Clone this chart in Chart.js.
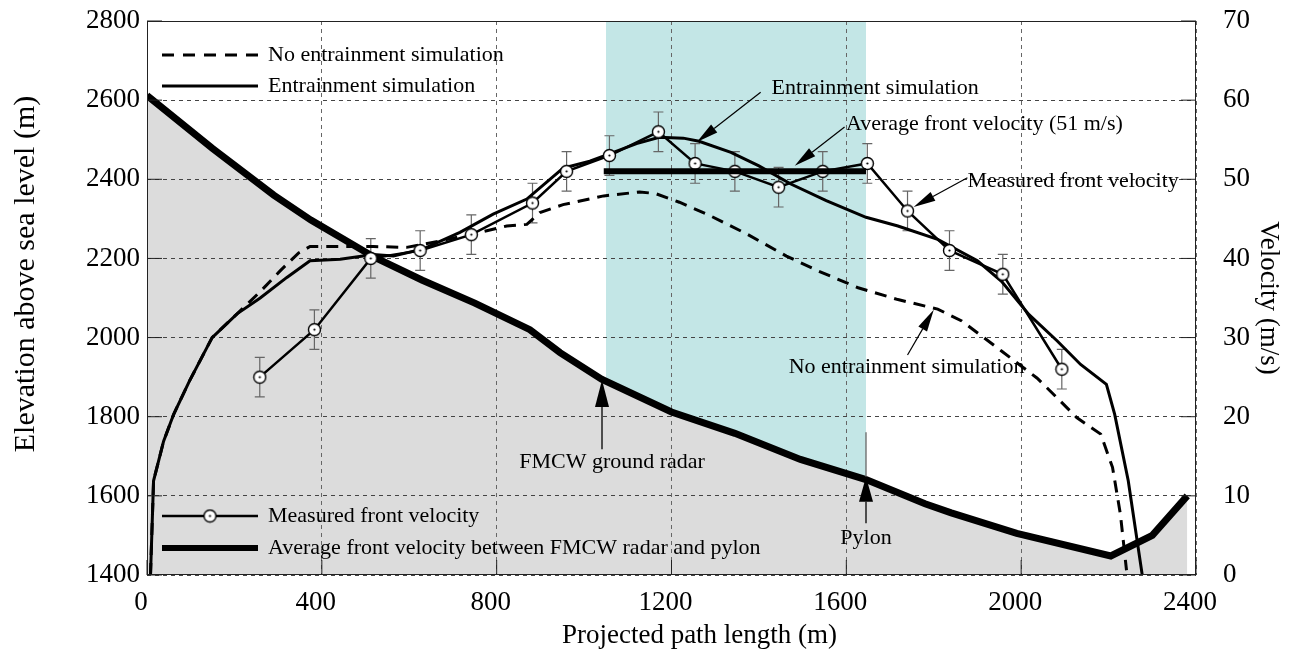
<!DOCTYPE html>
<html>
<head>
<meta charset="utf-8">
<script src="https://cdn.jsdelivr.net/npm/chart.js@4"></script>
<style>
  html, body { margin: 0; padding: 0; background: #fff; }
  #wrap { width: 1291px; height: 649px; }
</style>
</head>
<body>
<div id="wrap"><canvas id="avalancheChart"></canvas></div>
<script>
// -------------------------------
// DONNEES
// -------------------------------

// profil du terrain (altitude, axe de gauche)
const TERRAIN_X = [0, 150, 290, 375, 520, 630, 750, 876, 945, 1040, 1200, 1345, 1495, 1645, 1780, 1840, 1990, 2205, 2300, 2380];
const TERRAIN_ELEV = [2612, 2478, 2360, 2297, 2203, 2145, 2087, 2020, 1962, 1895, 1812, 1758, 1692, 1641, 1580, 1557, 1505, 1448, 1500, 1600];

// simulation sans entrainement (vitesse, axe de droite)
const NOENT_X = [8, 15, 38, 61, 97, 149, 206, 259, 304, 347, 373, 442, 518, 594, 670, 747, 823, 869, 899, 952, 1045, 1127, 1163, 1218, 1281, 1372, 1463, 1536, 1627, 1718, 1809, 1864, 1955, 2036, 2082, 2127, 2182, 2209, 2227, 2241];
const NOENT_V = [0, 11.9, 16.9, 20.3, 24.5, 30, 33, 35.8, 38.4, 40.7, 41.5, 41.5, 41.5, 41.4, 42.2, 43.1, 44.1, 44.3, 45.8, 46.8, 47.9, 48.4, 48.2, 47.1, 45.6, 43.1, 40.3, 38.4, 36.3, 34.8, 33.6, 32.1, 28.3, 24.9, 22.4, 19.9, 17.8, 13.6, 7.7, 0.6];

// simulation avec entrainement
const ENT_X = [8, 15, 38, 61, 97, 149, 206, 259, 320, 373, 442, 518, 564, 632, 716, 792, 869, 952, 1013, 1058, 1120, 1172, 1227, 1263, 1336, 1400, 1473, 1554, 1645, 1718, 1809, 1900, 1955, 2018, 2082, 2136, 2195, 2214, 2245, 2277];
const ENT_V = [0, 11.9, 16.9, 20.3, 24.5, 30, 33, 35, 37.6, 39.7, 39.9, 40.5, 40.3, 41.2, 43.3, 45.6, 47.5, 51.4, 52.3, 53.2, 54.5, 55.3, 55.2, 54.8, 53.4, 51.7, 49.4, 47.3, 45.2, 44.1, 42.4, 39.7, 37.1, 32.9, 29.6, 26.6, 24.1, 20.3, 11.9, 0];

// vitesse du front mesuree (+/- erreur)
const MEAS_X = [258, 383, 512, 625, 742, 882, 960, 1058, 1170, 1254, 1345, 1445, 1546, 1648, 1740, 1836, 1958, 2093];
const MEAS_V = [25, 31, 40, 41, 43, 47, 51, 53, 56, 52, 51, 49, 51, 52, 46, 41, 38, 26];
const MEAS_ERR = [2.5, 2.5, 2.5, 2.5, 2.5, 2.5, 2.5, 2.5, 2.5, 2.5, 2.5, 2.5, 2.5, 2.5, 2.5, 2.5, 2.5, 2.5];

// vitesse moyenne entre radar et pylone
const AVG_X = [1045, 1645];
const AVG_V = [51, 51];

// zone radar -> pylone (bande cyan)
const SHADE_X = [1050, 1645];
const SHADE_BASE = [1400, 1400];

// graduations
const X_TICKS = [0, 400, 800, 1200, 1600, 2000, 2400];
const ELEV_TICKS = [1400, 1600, 1800, 2000, 2200, 2400, 2600, 2800];
const VEL_TICKS = [0, 10, 20, 30, 40, 50, 60, 70];

const SERIF = '"Liberation Serif", "Times New Roman", serif';
Chart.defaults.font.family = SERIF;
Chart.defaults.color = '#000';

const pts = (xs, ys) => xs.map((x, i) => ({ x: x, y: ys[i] }));

// marqueur rond blanc avec point central
function makeMarker() {
  const c = document.createElement('canvas');
  c.width = 15; c.height = 15;
  const g = c.getContext('2d');
  g.beginPath(); g.arc(7.5, 7.5, 6, 0, Math.PI * 2);
  g.fillStyle = '#fff'; g.fill();
  g.lineWidth = 1.4; g.strokeStyle = '#000'; g.stroke();
  g.beginPath(); g.arc(7.5, 7.5, 1.1, 0, Math.PI * 2);
  g.fillStyle = '#000'; g.fill();
  return c;
}
const marker = makeMarker();

function arrow(ctx, x1, y1, x2, y2, len, wid, color, lw) {
  const a = Math.atan2(y2 - y1, x2 - x1);
  const bx = x2 - len * Math.cos(a), by = y2 - len * Math.sin(a);
  ctx.save();
  ctx.strokeStyle = color; ctx.fillStyle = color; ctx.lineWidth = lw || 1.2;
  ctx.beginPath(); ctx.moveTo(x1, y1); ctx.lineTo(bx, by); ctx.stroke();
  ctx.beginPath();
  ctx.moveTo(x2, y2);
  ctx.lineTo(bx + wid / 2 * Math.sin(a), by - wid / 2 * Math.cos(a));
  ctx.lineTo(bx - wid / 2 * Math.sin(a), by + wid / 2 * Math.cos(a));
  ctx.closePath(); ctx.fill();
  ctx.restore();
}

// annotations (coordonnees en unites de donnees)
const VEL_NOTES = [
  { text: 'Entrainment simulation', x: 1429, v: 61.5 },
  { text: 'Average front velocity (51 m/s)', x: 1599, v: 56.9 },
  { text: 'Measured front velocity', x: 1877, v: 49.7 },
  { text: 'No entrainment simulation', x: 1468, v: 26.2 }
];
const VEL_ARROWS = [
  { from: [1404, 61.0], to: [1258, 54.7] },
  { from: [1596, 56.6], to: [1482, 51.7] },
  { from: [1877, 50.2], to: [1754, 46.5] },
  { from: [1740, 27.8], to: [1800, 33.5] }
];

// -------------------------------
// PLUGINS
// -------------------------------
const errorBars = {
  id: 'errorBars',
  beforeDatasetsDraw(chart) {
    const { ctx } = chart;
    const sx = chart.scales.x, sv = chart.scales.y2;
    ctx.save();
    ctx.strokeStyle = '#666';
    ctx.lineWidth = 1.2;
    MEAS_X.forEach((x, i) => {
      const px = sx.getPixelForValue(x);
      const top = sv.getPixelForValue(MEAS_V[i] + MEAS_ERR[i]);
      const bot = sv.getPixelForValue(MEAS_V[i] - MEAS_ERR[i]);
      ctx.beginPath();
      ctx.moveTo(px, top); ctx.lineTo(px, bot);
      ctx.moveTo(px - 5, top); ctx.lineTo(px + 5, top);
      ctx.moveTo(px - 5, bot); ctx.lineTo(px + 5, bot);
      ctx.stroke();
    });
    ctx.restore();
  }
};

const decorations = {
  id: 'decorations',
  afterDraw(chart) {
    const { ctx, chartArea: a } = chart;
    const sx = chart.scales.x, se = chart.scales.y, sv = chart.scales.y2;

    // cadre + graduations interieures
    ctx.save();
    ctx.strokeStyle = '#222';
    ctx.lineWidth = 1;
    ctx.strokeRect(a.left + 0.5, a.top + 0.5, a.right - a.left - 1, a.bottom - a.top - 1);
    ctx.beginPath();
    ELEV_TICKS.forEach(t => { const y = se.getPixelForValue(t); ctx.moveTo(a.left, y); ctx.lineTo(a.left + 15, y); });
    VEL_TICKS.forEach(t => { const y = sv.getPixelForValue(t); ctx.moveTo(a.right - 15, y); ctx.lineTo(a.right, y); });
    X_TICKS.forEach(t => { const x = sx.getPixelForValue(t); ctx.moveTo(x, a.bottom); ctx.lineTo(x, a.bottom - 15); });
    ctx.stroke();
    ctx.restore();

    // titres des axes x et y (decales comme sur la figure)
    ctx.save();
    ctx.fillStyle = '#000';
    ctx.textAlign = 'center';
    ctx.textBaseline = 'middle';
    ctx.font = '27px ' + SERIF;
    ctx.fillText('Projected path length (m)', (a.left + a.right) / 2 + 28, 636);
    ctx.translate(26, (a.top + a.bottom) / 2 - 24);
    ctx.rotate(-Math.PI / 2);
    ctx.font = '30px ' + SERIF;
    ctx.fillText('Elevation above sea level (m)', 0, 0);
    ctx.restore();

    // annotations
    ctx.save();
    ctx.font = '22px ' + SERIF;
    ctx.fillStyle = '#000';
    ctx.textBaseline = 'middle';
    ctx.textAlign = 'left';
    VEL_NOTES.forEach(n => ctx.fillText(n.text, sx.getPixelForValue(n.x), sv.getPixelForValue(n.v)));
    VEL_ARROWS.forEach(r => arrow(ctx,
      sx.getPixelForValue(r.from[0]), sv.getPixelForValue(r.from[1]),
      sx.getPixelForValue(r.to[0]), sv.getPixelForValue(r.to[1]), 22, 10, '#000', 1.2));

    // radar FMCW
    const rx = sx.getPixelForValue(1041);
    arrow(ctx, rx, se.getPixelForValue(1718), rx, se.getPixelForValue(1893), 27, 14, '#000', 1.3);
    ctx.textAlign = 'center';
    ctx.fillText('FMCW ground radar', sx.getPixelForValue(1064), se.getPixelForValue(1685));

    // pylone
    const px = sx.getPixelForValue(1645);
    ctx.strokeStyle = '#666'; ctx.lineWidth = 1.3;
    ctx.beginPath(); ctx.moveTo(px, se.getPixelForValue(1761)); ctx.lineTo(px, se.getPixelForValue(1648)); ctx.stroke();
    arrow(ctx, px, se.getPixelForValue(1531), px, se.getPixelForValue(1648), 25, 14, '#000', 1.3);
    ctx.fillText('Pylon', px, se.getPixelForValue(1493));
    ctx.restore();

    // legendes
    ctx.save();
    ctx.font = '22px ' + SERIF;
    ctx.fillStyle = '#000';
    ctx.textBaseline = 'middle';
    const x0 = a.left + 15, x1 = a.left + 111, tx = a.left + 121;
    const rows = [
      { y: a.top + 34, dash: [12, 9], w: 3, label: 'No entrainment simulation' },
      { y: a.top + 65, dash: [], w: 3, label: 'Entrainment simulation' },
      { y: a.bottom - 59, dash: [], w: 2.5, label: 'Measured front velocity', mark: true },
      { y: a.bottom - 27, dash: [], w: 6, label: 'Average front velocity between FMCW radar and pylon' }
    ];
    rows.forEach(r => {
      ctx.strokeStyle = '#000';
      ctx.lineWidth = r.w;
      ctx.setLineDash(r.dash);
      ctx.beginPath(); ctx.moveTo(x0, r.y); ctx.lineTo(x1, r.y); ctx.stroke();
      ctx.setLineDash([]);
      if (r.mark) ctx.drawImage(marker, (x0 + x1) / 2 - 7.5, r.y - 7.5);
      ctx.fillText(r.label, tx, r.y);
    });
    ctx.restore();
  }
};

// -------------------------------
// GRAPHIQUE
// -------------------------------
const ctx = document.getElementById('avalancheChart').getContext('2d');
const tickFont = { family: SERIF, size: 27 };
const titleFont = { family: SERIF, size: 27, lineHeight: 1 };
const plain = v => String(v);

new Chart(ctx, {
  type: 'line',
  data: {
    datasets: [
      {
        label: 'Average front velocity between FMCW radar and pylon',
        data: pts(AVG_X, AVG_V), yAxisID: 'y2',
        borderColor: '#000', borderWidth: 6, pointRadius: 0, fill: false, order: 1
      },
      {
        label: 'Measured front velocity',
        data: pts(MEAS_X, MEAS_V), yAxisID: 'y2',
        borderColor: '#000', borderWidth: 2.5, pointStyle: marker, pointRadius: 7,
        fill: false, order: 2
      },
      {
        label: 'Entrainment simulation',
        data: pts(ENT_X, ENT_V), yAxisID: 'y2',
        borderColor: '#000', borderWidth: 3, pointRadius: 0, fill: false, order: 3
      },
      {
        label: 'No entrainment simulation',
        data: pts(NOENT_X, NOENT_V), yAxisID: 'y2',
        borderColor: '#000', borderWidth: 3, borderDash: [12, 8], pointRadius: 0, fill: false, order: 4
      },
      {
        label: 'Terrain',
        data: pts(TERRAIN_X, TERRAIN_ELEV), yAxisID: 'y',
        borderColor: '#000', borderWidth: 7, pointRadius: 0,
        fill: 'start', backgroundColor: '#dcdcdc', clip: 0, order: 20
      },
      {
        label: 'Radar-pylon',
        data: pts(SHADE_X, SHADE_BASE), yAxisID: 'y',
        borderColor: 'rgba(0,0,0,0)', borderWidth: 1, pointRadius: 0,
        fill: 'end', backgroundColor: '#c3e6e6', order: 30
      }
    ]
  },
  options: {
    responsive: true,
    maintainAspectRatio: false,
    animation: false,
    layout: { padding: { top: 21, left: 0, right: 0, bottom: 0 } },
    plugins: {
      legend: { display: false },
      tooltip: { enabled: false },
      filler: { drawTime: 'beforeDraw' }
    },
    scales: {
      x: {
        type: 'linear', min: 0, max: 2400,
        ticks: { stepSize: 400, font: tickFont, color: '#000', padding: 12, labelOffset: -6, maxRotation: 0, autoSkip: false, callback: plain },
        grid: { color: '#666', drawTicks: false },
        border: { display: false, dash: [4, 4] },
        afterFit: s => { s.height = 74; }
      },
      y: {
        position: 'left', min: 1400, max: 2800,
        ticks: { stepSize: 200, font: tickFont, color: '#000', padding: 2, callback: plain },
        grid: { color: '#444', drawTicks: true, tickLength: 5, tickColor: 'rgba(0,0,0,0)' },
        border: { display: false, dash: [4, 4] },
        afterFit: s => { s.width = 147; }
      },
      y2: {
        position: 'right', min: 0, max: 70,
        ticks: { stepSize: 10, font: tickFont, color: '#000', padding: 2, callback: plain },
        grid: { drawOnChartArea: false, drawTicks: true, tickLength: 25, tickColor: 'rgba(0,0,0,0)' },
        border: { display: false },
        title: { display: true, text: 'Velocity (m/s)', font: titleFont, color: '#000', padding: { top: 9, bottom: 0 } },
        afterFit: s => { s.width = 95; }
      }
    }
  },
  plugins: [errorBars, decorations]
});
</script>
</body>
</html>
